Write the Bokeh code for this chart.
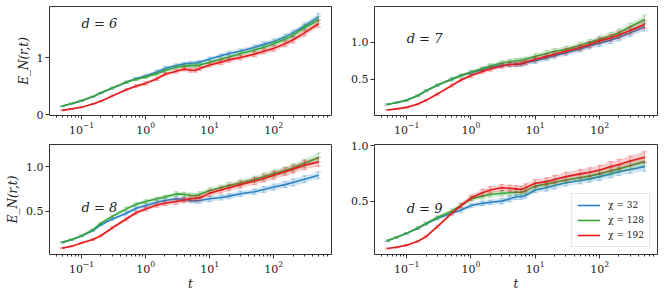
from bokeh.plotting import figure
from bokeh.layouts import gridplot
from bokeh.models import Range1d, FixedTicker, LogTickFormatter, PrintfTickFormatter, Label, ColumnDataSource
from bokeh.embed import file_html
from bokeh.resources import INLINE

# ---------------- data ----------------
T = [0.05, 0.07, 0.1, 0.15, 0.2, 0.3, 0.5, 0.7, 1.0, 1.5, 2.0, 3.0, 4.0, 5.0, 6.0, 7.0,
     10, 15, 20, 30, 50, 70, 100, 150, 200, 300, 500]

chis = ["32", "128", "192"]

# d = 6
d6_chi32 = [0.15, 0.195, 0.245, 0.315, 0.38, 0.465, 0.57, 0.63, 0.68, 0.75, 0.81, 0.86, 0.89, 0.90, 0.905, 0.92,
            0.975, 1.03, 1.07, 1.11, 1.18, 1.23, 1.28, 1.36, 1.43, 1.55, 1.71]
d6_chi128 = [0.155, 0.20, 0.25, 0.32, 0.385, 0.47, 0.57, 0.62, 0.66, 0.72, 0.77, 0.83, 0.85, 0.86, 0.86, 0.87,
             0.92, 0.97, 1.01, 1.066, 1.13, 1.18, 1.24, 1.32, 1.39, 1.52, 1.66]
d6_chi192 = [0.08, 0.105, 0.135, 0.19, 0.24, 0.33, 0.44, 0.50, 0.55, 0.63, 0.71, 0.76, 0.80, 0.78, 0.78, 0.81,
             0.87, 0.92, 0.96, 1.0, 1.06, 1.11, 1.16, 1.24, 1.31, 1.43, 1.59]
# d = 7
d7_chi32 = [0.16, 0.185, 0.215, 0.28, 0.345, 0.42, 0.50, 0.55, 0.59, 0.63, 0.665, 0.69, 0.70, 0.70, 0.705, 0.72,
            0.75, 0.79, 0.82, 0.86, 0.91, 0.95, 0.99, 1.03, 1.07, 1.13, 1.21]
d7_chi128 = [0.16, 0.185, 0.215, 0.28, 0.345, 0.42, 0.50, 0.55, 0.595, 0.645, 0.68, 0.72, 0.74, 0.75, 0.76, 0.77,
             0.81, 0.85, 0.88, 0.905, 0.96, 1.0, 1.04, 1.09, 1.13, 1.21, 1.31]
d7_chi192 = [0.085, 0.10, 0.12, 0.165, 0.215, 0.30, 0.415, 0.49, 0.55, 0.605, 0.64, 0.68, 0.70, 0.705, 0.71, 0.73,
             0.77, 0.81, 0.84, 0.88, 0.93, 0.97, 1.02, 1.06, 1.10, 1.16, 1.24]
# d = 8
d8_chi32 = [0.148, 0.178, 0.22, 0.28, 0.345, 0.41, 0.476, 0.53, 0.565, 0.60, 0.62, 0.64, 0.635, 0.62, 0.615, 0.62,
            0.64, 0.655, 0.67, 0.697, 0.72, 0.745, 0.773, 0.80, 0.825, 0.86, 0.905]
d8_chi128 = [0.148, 0.18, 0.223, 0.29, 0.364, 0.44, 0.526, 0.575, 0.61, 0.64, 0.66, 0.695, 0.69, 0.68, 0.675, 0.69,
             0.734, 0.765, 0.79, 0.818, 0.86, 0.89, 0.924, 0.96, 0.99, 1.04, 1.106]
d8_chi192 = [0.083, 0.105, 0.14, 0.18, 0.223, 0.31, 0.412, 0.48, 0.526, 0.57, 0.59, 0.61, 0.625, 0.64, 0.645, 0.65,
             0.704, 0.74, 0.765, 0.80, 0.84, 0.87, 0.905, 0.945, 0.975, 1.02, 1.056]
# d = 9
d9_chi32 = [0.143, 0.175, 0.21, 0.255, 0.295, 0.345, 0.39, 0.42, 0.46, 0.48, 0.49, 0.50, 0.52, 0.54, 0.54, 0.55,
            0.60, 0.62, 0.64, 0.665, 0.685, 0.70, 0.72, 0.745, 0.765, 0.785, 0.81]
d9_chi128 = [0.143, 0.175, 0.21, 0.26, 0.30, 0.353, 0.41, 0.46, 0.52, 0.545, 0.56, 0.57, 0.575, 0.58, 0.58, 0.59,
             0.635, 0.655, 0.67, 0.69, 0.71, 0.725, 0.745, 0.77, 0.79, 0.82, 0.855]
d9_chi192 = [0.074, 0.085, 0.104, 0.14, 0.18, 0.27, 0.39, 0.46, 0.53, 0.575, 0.60, 0.62, 0.615, 0.61, 0.605, 0.62,
             0.66, 0.675, 0.695, 0.72, 0.745, 0.76, 0.78, 0.81, 0.83, 0.86, 0.894]

# error-bar half widths
d6_err32 = [0.008, 0.008, 0.01, 0.01, 0.012, 0.015, 0.02, 0.025, 0.03, 0.035, 0.035, 0.03, 0.03, 0.03, 0.03, 0.03,
            0.035, 0.035, 0.04, 0.04, 0.04, 0.045, 0.045, 0.05, 0.05, 0.055, 0.06]
d6_err128 = [0.008, 0.008, 0.01, 0.01, 0.012, 0.015, 0.02, 0.02, 0.025, 0.03, 0.03, 0.03, 0.03, 0.03, 0.03, 0.03,
             0.03, 0.035, 0.035, 0.04, 0.04, 0.04, 0.045, 0.045, 0.05, 0.055, 0.06]
d6_err192 = [0.006, 0.007, 0.008, 0.01, 0.012, 0.015, 0.02, 0.025, 0.03, 0.03, 0.03, 0.03, 0.035, 0.035, 0.035, 0.035,
             0.035, 0.04, 0.04, 0.04, 0.045, 0.045, 0.05, 0.05, 0.055, 0.055, 0.06]
d7_err32 = [0.008, 0.008, 0.01, 0.01, 0.012, 0.015, 0.02, 0.02, 0.025, 0.025, 0.03, 0.03, 0.03, 0.03, 0.03, 0.03,
            0.035, 0.035, 0.035, 0.04, 0.04, 0.04, 0.045, 0.045, 0.05, 0.05, 0.055]
d7_err128 = [0.008, 0.008, 0.01, 0.01, 0.012, 0.015, 0.02, 0.02, 0.025, 0.025, 0.03, 0.03, 0.03, 0.03, 0.03, 0.03,
             0.035, 0.035, 0.035, 0.04, 0.04, 0.04, 0.045, 0.045, 0.05, 0.05, 0.06]
d7_err192 = [0.006, 0.007, 0.008, 0.01, 0.012, 0.015, 0.02, 0.02, 0.025, 0.025, 0.03, 0.03, 0.03, 0.03, 0.03, 0.03,
             0.035, 0.035, 0.035, 0.04, 0.04, 0.04, 0.045, 0.045, 0.05, 0.05, 0.055]
d8_err32 = [0.008, 0.008, 0.01, 0.01, 0.012, 0.015, 0.02, 0.02, 0.025, 0.025, 0.025, 0.025, 0.025, 0.025, 0.025, 0.03,
            0.03, 0.03, 0.03, 0.03, 0.03, 0.035, 0.035, 0.035, 0.04, 0.04, 0.04]
d8_err128 = [0.008, 0.008, 0.01, 0.01, 0.012, 0.015, 0.02, 0.02, 0.02, 0.02, 0.02, 0.025, 0.025, 0.025, 0.025, 0.03,
             0.03, 0.03, 0.035, 0.035, 0.035, 0.04, 0.04, 0.04, 0.045, 0.045, 0.05]
d8_err192 = [0.006, 0.007, 0.008, 0.01, 0.012, 0.015, 0.02, 0.02, 0.025, 0.025, 0.025, 0.03, 0.03, 0.03, 0.03, 0.03,
             0.035, 0.035, 0.035, 0.04, 0.04, 0.04, 0.045, 0.045, 0.045, 0.05, 0.05]
d9_err32 = [0.006, 0.007, 0.008, 0.01, 0.012, 0.015, 0.015, 0.02, 0.02, 0.02, 0.02, 0.025, 0.025, 0.025, 0.025, 0.025,
            0.025, 0.03, 0.03, 0.03, 0.03, 0.03, 0.035, 0.035, 0.035, 0.035, 0.04]
d9_err128 = [0.006, 0.007, 0.008, 0.01, 0.012, 0.015, 0.02, 0.02, 0.02, 0.025, 0.025, 0.025, 0.025, 0.025, 0.025, 0.025,
             0.03, 0.03, 0.03, 0.03, 0.03, 0.035, 0.035, 0.035, 0.035, 0.04, 0.04]
d9_err192 = [0.005, 0.006, 0.007, 0.008, 0.01, 0.012, 0.015, 0.02, 0.025, 0.03, 0.03, 0.03, 0.03, 0.03, 0.03, 0.035,
             0.035, 0.035, 0.035, 0.04, 0.04, 0.04, 0.04, 0.045, 0.045, 0.045, 0.05]

panels = [
    ("d = 6", [d6_chi32, d6_chi128, d6_chi192], [d6_err32, d6_err128, d6_err192]),
    ("d = 7", [d7_chi32, d7_chi128, d7_chi192], [d7_err32, d7_err128, d7_err192]),
    ("d = 8", [d8_chi32, d8_chi128, d8_chi192], [d8_err32, d8_err128, d8_err192]),
    ("d = 9", [d9_chi32, d9_chi128, d9_chi192], [d9_err32, d9_err128, d9_err192]),
]

y_ranges = [(-0.01, 1.89), (0.01, 1.485), (0.011, 1.253), (0.02, 1.009)]
y_ticks = [[0, 1], [0.5, 1.0], [0.5, 1.0], [0.5, 1.0]]
y_fmt = ["%d", "%.1f", "%.1f", "%.1f"]
label_y = [1.6, 1.05, 0.545, 0.434]
x_ticks = [0.1, 1, 10, 100]
x_minor = [k * 10.0 ** e for e in range(-2, 3) for k in range(2, 10)]

COLORS = ["#2b83c6", "#3aa53a", "#e41a1c"]
SERIF = "DejaVu Serif"

figs = []
for i, (name, series, errs) in enumerate(panels):
    top = i < 2
    left = i % 2 == 0
    p = figure(width=332, height=136 if top else 160, x_axis_type="log",
               x_range=Range1d(10 ** -1.5, 10 ** 2.9), y_range=Range1d(*y_ranges[i]),
               output_backend="svg", toolbar_location=None,
               min_border_left=49 if left else 42, min_border_right=1 if left else 7,
               min_border_top=6 if top else 8, min_border_bottom=20 if top else 42)
    p.xgrid.visible = False
    p.ygrid.visible = False
    p.outline_line_color = "#333333"
    p.outline_line_width = 1
    p.background_fill_color = "white"
    p.border_fill_color = "white"

    for ax in (p.xaxis[0], p.yaxis[0]):
        ax.axis_line_color = None
        ax.major_tick_in = 0
        ax.minor_tick_in = 0
        ax.major_tick_out = 4
        ax.minor_tick_out = 2
        ax.major_tick_line_color = "#333333"
        ax.minor_tick_line_color = "#333333"
        ax.major_label_text_font = SERIF
        ax.major_label_text_font_size = "11px"
        ax.major_label_text_color = "#222222"
        ax.major_label_standoff = 2
        ax.axis_label_text_font = SERIF
        ax.axis_label_text_font_size = "12px"
        ax.axis_label_text_font_style = "italic"
        ax.axis_label_text_color = "#222222"
        ax.axis_label_standoff = 3

    p.xaxis.ticker = FixedTicker(ticks=x_ticks, minor_ticks=x_minor)
    p.xaxis.formatter = LogTickFormatter()
    p.yaxis.ticker = FixedTicker(ticks=y_ticks[i], minor_ticks=[])
    p.yaxis.formatter = PrintfTickFormatter(format=y_fmt[i])
    if left:
        p.yaxis.axis_label = "E_N(r,t)"
    if not top:
        p.xaxis.axis_label = "t"
        p.xaxis.axis_label_standoff = 1

    for j, (ys, es) in enumerate(zip(series, errs)):
        lo = [y - e for y, e in zip(ys, es)]
        hi = [y + e for y, e in zip(ys, es)]
        src = ColumnDataSource(dict(t=T, y=ys, lo=lo, hi=hi))
        c = COLORS[j]
        p.varea(x="t", y1="lo", y2="hi", source=src, fill_color=c, fill_alpha=0.22)
        p.segment(x0="t", y0="lo", x1="t", y1="hi", source=src, line_color=c, line_alpha=0.35, line_width=1)
        p.scatter(x="t", y="lo", source=src, marker="dash", size=5, line_color=c, line_alpha=0.35)
        p.scatter(x="t", y="hi", source=src, marker="dash", size=5, line_color=c, line_alpha=0.35)
        kw = {}
        if i == 3:
            kw["legend_label"] = "\u03c7 = " + chis[j]
        p.line(x="t", y="y", source=src, line_color=c, line_width=1.6, **kw)

    p.add_layout(Label(x=0.1, y=label_y[i], text=name, text_font=SERIF, text_font_size="13px",
                       text_font_style="italic", text_baseline="middle", text_align="left",
                       text_color="#222222"))

    if i == 3:
        lg = p.legend[0]
        lg.location = "bottom_right"
        lg.label_text_font = SERIF
        lg.label_text_font_size = "9px"
        lg.label_text_color = "#222222"
        lg.glyph_width = 23
        lg.glyph_height = 12
        lg.label_standoff = 8
        lg.spacing = 3
        lg.padding = 5
        lg.margin = 7
        lg.border_line_color = "#cccccc"
        lg.background_fill_alpha = 0.85
    figs.append(p)

grid = gridplot([[figs[0], figs[1]], [figs[2], figs[3]]], toolbar_location=None)

open("out.html", "w").write(file_html(grid, INLINE))
